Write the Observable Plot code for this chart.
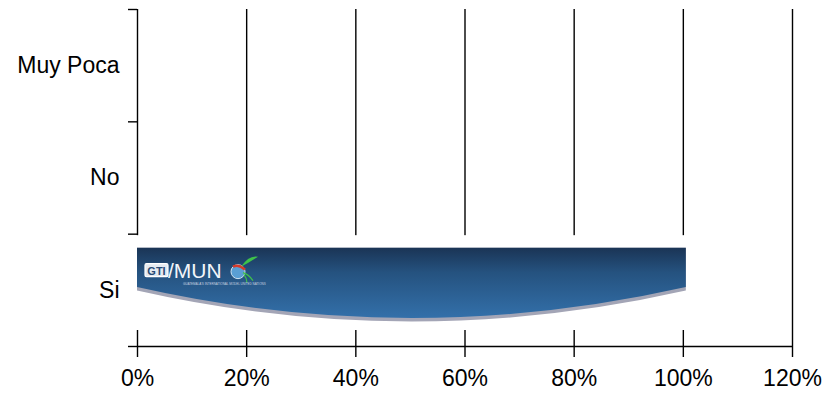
<!DOCTYPE html>
<html><head><meta charset="utf-8">
<script src="https://cdn.jsdelivr.net/npm/d3@7"></script>
<script src="https://cdn.jsdelivr.net/npm/@observablehq/plot@0.6"></script>
<style>html,body{margin:0;padding:0;background:#fff}#chart{width:825px;height:394px}</style>
</head><body><div id="chart"></div>
<script>
const categories = ["Muy Poca", "No", "Si"];
const values = [0, 0, 100];
const xTicks = [0, 20, 40, 60, 80, 100, 120];
const xTickLabels = ["0%", "20%", "40%", "60%", "80%", "100%", "120%"];
const bandEdges = [0, 1, 2, 3];
const bandCenters = [0.5, 1.5, 2.5];

const data = categories.map((c, i) => ({cat: c, x0: 0, value: values[i], y1: i, y2: i + 1}));
const bars = data.filter(d => d.value > 0);

const plot = Plot.plot({
  width: 825, height: 394,
  marginLeft: 137, marginRight: 33, marginTop: 9, marginBottom: 48,
  style: {fontFamily: "'Liberation Sans', Arial, sans-serif", fontSize: "22px", color: "#000", background: "#fff", overflow: "visible"},
  x: {type: "linear", domain: [0, 120]},
  y: {type: "linear", domain: [0, 3], reverse: true},
  marks: [
    Plot.ruleX(xTicks, {stroke: "#000", strokeWidth: 1.4}),
    Plot.ruleY([3], {stroke: "#000", strokeWidth: 1.4}),
    Plot.rect(bars, {x1: "x0", x2: "value", y1: "y1", y2: "y2", fill: "#fff", insetTop: 1.5, insetBottom: 16, insetLeft: -10, insetRight: -12}),
    Plot.rect(bars, {x1: "x0", x2: "value", y1: "y1", y2: "y2", fill: "url(#barGrad)", insetTop: 14, insetBottom: 28, insetRight: -3}),
    Plot.axisY({ticks: bandEdges, tickSize: 9, tickFormat: () => "", strokeWidth: 1.4, label: null}),
    Plot.axisY({ticks: bandCenters, tickSize: 0, tickPadding: 18, fontSize: 23, label: null, tickFormat: v => categories[Math.floor(v)]}),
    Plot.axisX({ticks: xTicks, tickSize: 11, tickPadding: 12, fontSize: 23, strokeWidth: 1.4, label: null, tickFormat: v => xTickLabels[xTicks.indexOf(v)]})
  ]
});
document.getElementById("chart").appendChild(plot);

const svg = d3.select(plot);
const defs = svg.insert("defs", ":first-child");
const grad = defs.append("linearGradient").attr("id", "barGrad").attr("x1", 0).attr("y1", 0).attr("x2", 0).attr("y2", 1);
grad.append("stop").attr("offset", "0%").attr("stop-color", "#1a3455");
grad.append("stop").attr("offset", "35%").attr("stop-color", "#25527f");
grad.append("stop").attr("offset", "100%").attr("stop-color", "#3370aa");

svg.selectAll('g[fill="url(#barGrad)"] rect').each(function () {
  const r = d3.select(this);
  const x = +r.attr("x"), y = +r.attr("y"), w = +r.attr("width"), h = +r.attr("height");
  const side = h - 31;
  const bottom = y + h;
  const ctrl = 2 * bottom - (y + side);
  const shape = (off) => `M${x},${y}H${x + w}V${y + side + off}Q${x + w / 2},${ctrl + off} ${x},${y + side + off}Z`;
  const parent = d3.select(this.parentNode);
  parent.insert("path", () => this).attr("d", shape(3.5)).attr("fill", "#a3a5b6");
  parent.insert("path", () => this).attr("d", shape(0));
  r.remove();

  const font = "'Liberation Sans', Arial, sans-serif";
  const g = svg.append("g").attr("transform", `translate(${x + 8},${y + 16})`).attr("text-anchor", "start");
  g.append("rect").attr("x", 0).attr("y", 0).attr("width", 23).attr("height", 13).attr("rx", 1.5)
    .attr("fill", "#e4eaf1").attr("stroke", "#ffffff").attr("stroke-width", 1.2);
  g.append("text").attr("x", 11.5).attr("y", 11).attr("text-anchor", "middle")
    .attr("font-family", font).attr("font-weight", "bold").attr("font-size", 11)
    .attr("fill", "#274a75").text("GTI");
  g.append("text").attr("x", 23).attr("y", 14).attr("text-anchor", "start")
    .attr("font-family", font).attr("font-size", 21)
    .attr("fill", "#f2f5f9").text("/MUN");
  g.append("circle").attr("cx", 93).attr("cy", 8).attr("r", 7).attr("fill", "#5a9fd4").attr("stroke", "#cfe3f2").attr("stroke-width", 1);
  g.append("path").attr("d", "M88,3 Q94,0 100,6").attr("stroke", "#d63a2a").attr("stroke-width", 2.5).attr("fill", "none");
  g.append("path").attr("d", "M96,3 Q104,-9 113,-7 Q104,-1 96,3Z").attr("fill", "#3fc24a");
  g.append("path").attr("d", "M98,9 Q104,11 108,17 M99,11 Q102,15 102,19").attr("stroke", "#3fc24a").attr("stroke-width", 1.2).attr("fill", "none");
  g.append("text").attr("x", 38).attr("y", 21).attr("text-anchor", "start")
    .attr("font-family", font).attr("font-size", 3)
    .attr("fill", "#c8d3e0").text("GUATEMALA'S INTERNATIONAL MODEL UNITED NATIONS");
});
</script>
</body></html>
